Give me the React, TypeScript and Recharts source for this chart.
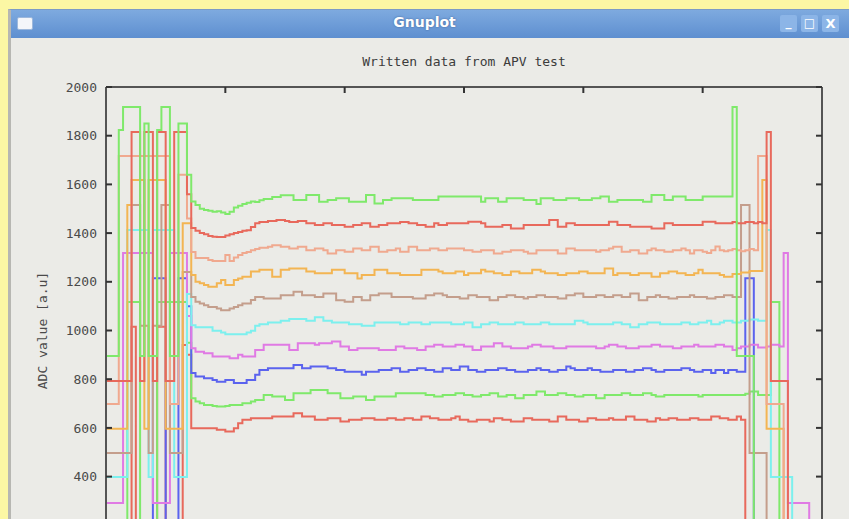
import React from 'react';
import { LineChart, Line, XAxis, YAxis, Label } from 'recharts';

// ---- x categories (sample index) and axis ticks ----
const SAMPLES = Array.from({ length: 169 }, (_, i) => i);
const X_TICKS = [0, 28, 56, 84, 112, 140, 168];
const Y_TICKS = [0, 200, 400, 600, 800, 1000, 1200, 1400, 1600, 1800, 2000];

const CHART_TITLE = 'Written data from APV test';
const Y_LABEL = 'ADC value [a.u]';

// ---- series 1 : red (lowest) ----
const RED0_HEAD = [10, 10, 10, 10, 10, 10, 1015, 10, 10, 10, 10, 10, 1015, 1015, 10, 10, 10, 10, 940, 900];
const RED0_BODY = [
  599, 599, 599, 599, 599, 599, 592, 592, 585, 585,
  599, 619, 633, 633, 640, 640, 640, 640, 640, 647,
  647, 647, 647, 647, 660, 660, 647, 647, 647, 633,
  633, 633, 640, 640, 640, 626, 626, 633, 633, 633,
  640, 640, 640, 633, 633, 633, 640, 640, 633, 633,
  640, 640, 633, 633, 647, 647, 640, 640, 633, 633,
  633, 640, 647, 633, 633, 626, 626, 633, 633, 633,
  626, 640, 640, 633, 633, 626, 626, 626, 640, 640,
  633, 633, 633, 633, 626, 626, 647, 647, 633, 633,
  633, 626, 626, 640, 640, 633, 633, 633, 640, 633,
  633, 633, 647, 647, 633, 633, 633, 626, 626, 640,
  633, 633, 640, 640, 633, 633, 633, 640, 640, 633,
  633, 633, 647, 647, 640, 640, 633, 633, 647, 633,
];
const RED0_TAIL = [10, 10, 10, 10, 10, 10, 10, 10, 10, 10, 10, 10, 10, 10, 10, 10, 10, 10, 10];

// ---- series 2 : green (low) ----
const GREEN0_HEAD = [90, 90, 90, 90, 90, 1117, 1117, 1117, 90, 90, 90, 90, 1117, 1117, 1117, 1117, 1117, 1117, 1117, 950];
const GREEN0_BODY = [
  722, 708, 701, 694, 694, 690, 688, 688, 690, 694,
  694, 694, 701, 701, 708, 715, 715, 735, 735, 729,
  729, 729, 715, 715, 742, 742, 742, 742, 756, 756,
  756, 756, 742, 742, 742, 722, 722, 722, 729, 729,
  729, 715, 715, 729, 729, 729, 729, 729, 742, 742,
  742, 742, 742, 742, 742, 735, 735, 729, 729, 735,
  735, 735, 742, 742, 735, 735, 729, 729, 735, 735,
  742, 742, 729, 729, 735, 735, 722, 722, 735, 735,
  735, 749, 749, 735, 735, 735, 742, 742, 735, 735,
  729, 729, 735, 735, 735, 722, 722, 735, 735, 735,
  735, 742, 742, 735, 735, 735, 742, 742, 735, 729,
  729, 735, 735, 735, 735, 735, 735, 735, 735, 729,
  735, 735, 735, 735, 735, 735, 735, 735, 735, 735,
  740, 749, 749, 735, 735, 735,
];
const GREEN0_TAIL = [1117, 1117, 90, 90, 90, 90, 90, 90, 90, 90, 90, 90, 90];

// ---- series 3 : blue ----
const BLUE_HEAD = [190, 190, 190, 190, 190, 190, 190, 190, 190, 190, 190, 1215, 1215, 1215, 190, 190, 190, 1215, 1215, 1100];
const BLUE_BODY = [
  825, 811, 811, 804, 804, 797, 790, 790, 797, 797,
  784, 784, 784, 797, 797, 818, 838, 838, 845, 845,
  845, 845, 845, 845, 858, 858, 845, 845, 852, 852,
  852, 852, 845, 845, 838, 838, 831, 831, 831, 831,
  818, 831, 831, 831, 838, 838, 838, 845, 845, 831,
  831, 838, 838, 845, 845, 838, 838, 831, 831, 845,
  845, 838, 838, 852, 852, 838, 838, 831, 831, 838,
  838, 838, 845, 845, 838, 838, 831, 831, 831, 838,
  838, 845, 838, 838, 831, 831, 838, 838, 852, 845,
  838, 838, 838, 845, 838, 838, 831, 831, 831, 838,
  838, 838, 831, 831, 838, 838, 845, 845, 838, 831,
  831, 838, 838, 838, 838, 845, 845, 838, 831, 831,
  838, 838, 825, 838, 838, 825, 838, 838, 831, 831,
];
const BLUE_TAIL = [1215, 1215, 190, 190, 190, 190, 190, 190, 190, 190, 190, 190, 190, 190, 190, 190, 190, 190, 190];

// ---- series 4 : magenta ----
const MAGENTA_HEAD = [292, 292, 292, 292, 1318, 1318, 1318, 1318, 1318, 1318, 1318, 292, 292, 292, 292, 1318, 1318, 1318, 1318, 1060];
const MAGENTA_BODY = [
  927, 913, 913, 907, 907, 893, 893, 893, 893, 886,
  886, 900, 893, 893, 893, 920, 920, 941, 941, 941,
  941, 941, 941, 920, 920, 948, 948, 948, 948, 941,
  948, 948, 948, 955, 955, 934, 934, 920, 920, 927,
  927, 927, 927, 927, 920, 920, 920, 920, 934, 934,
  927, 927, 927, 920, 920, 934, 934, 941, 941, 934,
  934, 934, 941, 941, 934, 934, 920, 920, 934, 934,
  934, 948, 948, 934, 934, 927, 927, 927, 927, 934,
  941, 941, 934, 934, 934, 927, 927, 927, 934, 934,
  934, 934, 934, 934, 934, 927, 927, 934, 941, 941,
  934, 934, 927, 927, 927, 934, 934, 934, 941, 941,
  934, 934, 934, 927, 927, 934, 934, 934, 941, 934,
  934, 934, 934, 941, 941, 934, 934, 920, 927, 934,
  934, 941, 941, 930, 930, 934, 941, 941, 934,
];
const MAGENTA_TAIL = [1318, 292, 292, 292, 292, 292, 30, 30, 30, 30];

// ---- series 5 : cyan ----
const CYAN_HEAD = [398, 398, 398, 398, 398, 1413, 1413, 1413, 1413, 1413, 398, 1413, 1413, 1413, 1413, 1413, 398, 398, 398, 1150];
const CYAN_BODY = [
  1022, 1013, 1013, 1013, 1013, 999, 999, 992, 985, 985,
  985, 985, 985, 992, 999, 1020, 1026, 1026, 1033, 1033,
  1033, 1040, 1040, 1047, 1047, 1047, 1047, 1040, 1040, 1054,
  1054, 1040, 1040, 1033, 1033, 1033, 1033, 1026, 1026, 1026,
  1020, 1020, 1020, 1033, 1033, 1033, 1033, 1033, 1033, 1026,
  1026, 1033, 1033, 1033, 1026, 1026, 1033, 1033, 1033, 1033,
  1033, 1026, 1026, 1026, 1033, 1033, 1013, 1013, 1026, 1026,
  1033, 1033, 1026, 1026, 1026, 1026, 1033, 1033, 1026, 1026,
  1026, 1026, 1033, 1033, 1026, 1026, 1026, 1026, 1026, 1026,
  1040, 1040, 1033, 1026, 1026, 1026, 1026, 1026, 1026, 1033,
  1033, 1026, 1026, 1013, 1013, 1026, 1026, 1033, 1033, 1033,
  1026, 1026, 1026, 1026, 1026, 1033, 1033, 1026, 1026, 1033,
  1033, 1040, 1026, 1026, 1033, 1040, 1040, 1033, 1033, 1040,
  1040, 1045, 1045, 1040, 1040,
];
const CYAN_TAIL = [1413, 398, 398, 398, 398, 398, 30, 30, 30, 30, 30, 30, 30, 30];

// ---- series 6 : sienna ----
const SIENNA_HEAD = [497, 497, 497, 497, 497, 497, 1515, 1515, 1020, 1020, 497, 1020, 1020, 1515, 1515, 497, 497, 497, 1240, 1240];
const SIENNA_BODY = [
  1138, 1118, 1111, 1104, 1097, 1097, 1090, 1083, 1083, 1090,
  1097, 1104, 1111, 1111, 1125, 1138, 1138, 1131, 1131, 1131,
  1131, 1145, 1145, 1145, 1159, 1159, 1145, 1145, 1145, 1138,
  1138, 1152, 1152, 1152, 1124, 1124, 1118, 1118, 1138, 1138,
  1124, 1124, 1145, 1145, 1152, 1152, 1152, 1138, 1138, 1138,
  1138, 1138, 1131, 1131, 1131, 1145, 1145, 1152, 1152, 1145,
  1138, 1138, 1138, 1131, 1131, 1145, 1145, 1138, 1138, 1138,
  1124, 1124, 1138, 1138, 1145, 1145, 1138, 1138, 1131, 1138,
  1138, 1145, 1145, 1138, 1138, 1138, 1131, 1131, 1145, 1145,
  1152, 1152, 1138, 1138, 1138, 1145, 1145, 1138, 1138, 1145,
  1145, 1138, 1138, 1152, 1152, 1124, 1124, 1138, 1138, 1145,
  1138, 1138, 1131, 1131, 1138, 1138, 1138, 1145, 1138, 1138,
  1138, 1131, 1131, 1138, 1138, 1145, 1145, 1138, 1138,
];
const SIENNA_TAIL = [1515, 1515, 497, 497, 497, 497, 60, 60, 60, 60, 60, 60, 60, 60, 60, 60, 60, 60, 60, 60];

// ---- series 7 : orange ----
const ORANGE_HEAD = [596, 596, 596, 596, 596, 1515, 1618, 1618, 1618, 596, 1618, 1618, 1618, 1618, 596, 596, 596, 596, 1440, 1440];
const ORANGE_BODY = [
  1228, 1200, 1194, 1187, 1180, 1180, 1194, 1207, 1187, 1187,
  1207, 1214, 1221, 1221, 1242, 1242, 1249, 1249, 1249, 1221,
  1221, 1249, 1249, 1255, 1255, 1255, 1255, 1242, 1242, 1235,
  1235, 1235, 1235, 1249, 1249, 1249, 1235, 1235, 1235, 1214,
  1228, 1228, 1228, 1249, 1249, 1249, 1235, 1235, 1235, 1228,
  1228, 1228, 1228, 1228, 1249, 1249, 1249, 1249, 1242, 1235,
  1235, 1235, 1242, 1242, 1228, 1235, 1235, 1235, 1249, 1242,
  1242, 1235, 1235, 1228, 1228, 1242, 1242, 1235, 1235, 1235,
  1249, 1249, 1242, 1235, 1235, 1235, 1228, 1228, 1235, 1235,
  1235, 1242, 1242, 1235, 1235, 1235, 1235, 1255, 1255, 1228,
  1235, 1235, 1235, 1228, 1228, 1235, 1235, 1235, 1221, 1221,
  1235, 1235, 1242, 1242, 1235, 1235, 1228, 1228, 1235, 1249,
  1235, 1235, 1235, 1235, 1228, 1221, 1221, 1232, 1232, 1238,
  1238, 1244, 1244, 1244,
];
const ORANGE_TAIL = [1618, 596, 596, 596, 596, 30, 30, 30, 30, 30, 30, 30, 30, 30, 30];

// ---- series 8 : coral ----
const CORAL_HEAD = [698, 698, 698, 1717, 1717, 1717, 1717, 1717, 1717, 1717, 1717, 1717, 1717, 1717, 1717, 698, 698, 1640, 1640, 1460];
const CORAL_BODY = [
  1322, 1298, 1298, 1298, 1290, 1285, 1285, 1285, 1310, 1285,
  1300, 1310, 1318, 1322, 1330, 1335, 1340, 1340, 1344, 1350,
  1350, 1344, 1344, 1337, 1337, 1344, 1344, 1330, 1330, 1337,
  1337, 1330, 1316, 1316, 1330, 1330, 1323, 1323, 1337, 1337,
  1330, 1330, 1344, 1344, 1323, 1323, 1330, 1330, 1337, 1323,
  1323, 1344, 1344, 1330, 1330, 1330, 1337, 1337, 1330, 1330,
  1337, 1337, 1337, 1337, 1330, 1330, 1323, 1323, 1330, 1330,
  1330, 1316, 1316, 1323, 1323, 1330, 1330, 1330, 1323, 1316,
  1316, 1330, 1330, 1330, 1330, 1330, 1316, 1316, 1337, 1337,
  1330, 1330, 1330, 1330, 1330, 1323, 1330, 1330, 1337, 1344,
  1344, 1323, 1323, 1330, 1330, 1316, 1316, 1330, 1337, 1330,
  1330, 1323, 1323, 1330, 1330, 1337, 1330, 1316, 1330, 1330,
  1323, 1318, 1330, 1345, 1330, 1325, 1330, 1335, 1330, 1325,
  1330, 1335, 1330,
];
const CORAL_TAIL = [1717, 1717, 698, 698, 698, 698, 20, 20, 20, 20, 20, 20, 20, 20, 20, 20];

// ---- series 9 : red (upper) ----
const RED1_HEAD = [793, 793, 793, 793, 793, 793, 1815, 1815, 793, 1815, 1815, 793, 1815, 1815, 793, 793, 1815, 1815, 1815, 1560];
const RED1_BODY = [
  1421, 1410, 1400, 1395, 1388, 1385, 1384, 1384, 1390, 1395,
  1400, 1405, 1410, 1412, 1425, 1440, 1446, 1446, 1450, 1450,
  1454, 1454, 1450, 1446, 1446, 1450, 1450, 1440, 1440, 1433,
  1433, 1440, 1440, 1433, 1433, 1433, 1426, 1426, 1433, 1433,
  1440, 1440, 1426, 1426, 1433, 1433, 1440, 1440, 1440, 1446,
  1446, 1440, 1440, 1433, 1433, 1426, 1426, 1440, 1433, 1433,
  1440, 1440, 1440, 1440, 1440, 1447, 1447, 1447, 1440, 1426,
  1426, 1426, 1426, 1433, 1433, 1419, 1419, 1419, 1433, 1433,
  1433, 1433, 1433, 1433, 1454, 1454, 1426, 1426, 1440, 1440,
  1433, 1433, 1433, 1433, 1433, 1433, 1433, 1433, 1447, 1447,
  1433, 1433, 1433, 1426, 1426, 1426, 1426, 1426, 1419, 1419,
  1419, 1440, 1440, 1433, 1433, 1433, 1433, 1433, 1433, 1433,
  1447, 1447, 1447, 1440, 1440, 1440, 1440, 1446, 1440, 1440,
  1446, 1446, 1440, 1446, 1440,
];
const RED1_TAIL = [1815, 793, 793, 793, 793, 30, 30, 30, 30, 30, 30, 30, 30, 30];

// ---- series 10 : green (top) ----
const GREEN1_HEAD = [895, 895, 895, 1823, 1918, 1918, 1918, 1918, 895, 1850, 895, 895, 1823, 1918, 1918, 895, 895, 1850, 1850, 1640];
const GREEN1_BODY = [
  1530, 1515, 1500, 1495, 1492, 1488, 1490, 1485, 1478, 1488,
  1505, 1512, 1520, 1525, 1530, 1528, 1535, 1540, 1540, 1548,
  1548, 1555, 1555, 1555, 1536, 1536, 1536, 1556, 1556, 1556,
  1529, 1529, 1536, 1536, 1543, 1543, 1543, 1529, 1529, 1529,
  1529, 1556, 1556, 1522, 1522, 1536, 1536, 1543, 1543, 1543,
  1543, 1543, 1536, 1536, 1536, 1536, 1536, 1536, 1550, 1550,
  1550, 1550, 1550, 1550, 1550, 1550, 1550, 1550, 1529, 1543,
  1543, 1543, 1529, 1529, 1543, 1543, 1543, 1543, 1536, 1536,
  1536, 1519, 1543, 1543, 1543, 1536, 1536, 1536, 1543, 1543,
  1543, 1536, 1536, 1536, 1543, 1543, 1550, 1550, 1529, 1529,
  1536, 1536, 1536, 1536, 1536, 1536, 1529, 1529, 1556, 1556,
  1556, 1536, 1536, 1550, 1550, 1550, 1536, 1536, 1536, 1536,
  1550, 1550, 1550, 1550, 1550, 1550, 1550,
];
const GREEN1_TAIL = [1918, 895, 895, 895, 895, 100, 100, 100, 100, 100, 100, 100, 100, 100, 100, 100, 100, 100, 100, 100, 100, 100];

const SERIES = [
  { key: 'red0', color: '#e8695c', values: [...RED0_HEAD, ...RED0_BODY, ...RED0_TAIL] },
  { key: 'green0', color: '#7fe96b', values: [...GREEN0_HEAD, ...GREEN0_BODY, ...GREEN0_TAIL] },
  { key: 'blue', color: '#5b63ee', values: [...BLUE_HEAD, ...BLUE_BODY, ...BLUE_TAIL] },
  { key: 'magenta', color: '#e07ae4', values: [...MAGENTA_HEAD, ...MAGENTA_BODY, ...MAGENTA_TAIL] },
  { key: 'cyan', color: '#7cf0ee', values: [...CYAN_HEAD, ...CYAN_BODY, ...CYAN_TAIL] },
  { key: 'sienna', color: '#c49e8c', values: [...SIENNA_HEAD, ...SIENNA_BODY, ...SIENNA_TAIL] },
  { key: 'orange', color: '#f3b553', values: [...ORANGE_HEAD, ...ORANGE_BODY, ...ORANGE_TAIL] },
  { key: 'coral', color: '#f0a98f', values: [...CORAL_HEAD, ...CORAL_BODY, ...CORAL_TAIL] },
  { key: 'red1', color: '#e8695c', values: [...RED1_HEAD, ...RED1_BODY, ...RED1_TAIL] },
  { key: 'green1', color: '#7fe96b', values: [...GREEN1_HEAD, ...GREEN1_BODY, ...GREEN1_TAIL] },
];

const TABLE = SAMPLES.map((x, i) => {
  const row: Record<string, number | null> = { x };
  SERIES.forEach((s) => {
    row[s.key] = i < s.values.length ? s.values[i] : null;
  });
  return row;
});

const FONT = '"DejaVu Sans Mono", monospace';
const emptyTick = () => <g />;

const YLabel = (props: any) => {
  const vb = props.viewBox || { x: 0, y: 0, width: 0, height: 0 };
  const cx = vb.x + 42;
  const cy = vb.y + vb.height / 2;
  return (
    <text x={cx} y={cy} transform={`rotate(-90 ${cx} ${cy})`} textAnchor="middle" dominantBaseline="central"
      fill="#4a4a4a" fontSize={13} fontFamily={FONT}>
      {Y_LABEL}
    </text>
  );
};

export default function App() {
  return (
    <div style={{ position: 'absolute', left: 0, top: 0, width: 849, height: 519, overflow: 'hidden', background: '#fcf7a4' }}>
      {/* window */}
      <div style={{ position: 'absolute', left: 8, top: 9, width: 860, height: 530, background: '#ebebe7', borderLeft: '3px solid #b7b7b2', borderTop: '1px solid #7c9cc6', boxSizing: 'border-box' }} />
      {/* title bar */}
      <div style={{ position: 'absolute', left: 11, top: 10, width: 860, height: 28, background: 'linear-gradient(#7eaadf, #5e8fd0)' }} />
      <div style={{ position: 'absolute', left: 17, top: 17, width: 14, height: 11, background: '#f4f6fa', border: '1px solid #9db8dc', borderRadius: 2 }} />
      <div style={{ position: 'absolute', left: 0, top: 14, width: 849, textAlign: 'center', color: '#ffffff', fontFamily: '"DejaVu Sans", sans-serif', fontWeight: 'bold', fontSize: 14, textShadow: '0 0 2px #3a5f95' }}>
        Gnuplot
      </div>
      <div style={{ position: 'absolute', left: 780, top: 15, width: 17, height: 17, background: '#8cb5e7', borderRadius: 2, color: '#fff', fontFamily: '"DejaVu Sans", sans-serif', fontWeight: 'bold', fontSize: 12, textAlign: 'center', lineHeight: '15px' }}>_</div>
      <div style={{ position: 'absolute', left: 801, top: 15, width: 17, height: 17, background: '#8cb5e7', borderRadius: 2, color: '#fff', fontFamily: '"DejaVu Sans", sans-serif', fontWeight: 'bold', fontSize: 12, textAlign: 'center', lineHeight: '17px' }}>□</div>
      <div style={{ position: 'absolute', left: 822, top: 15, width: 17, height: 17, background: '#8cb5e7', borderRadius: 2, color: '#fff', fontFamily: '"DejaVu Sans", sans-serif', fontWeight: 'bold', fontSize: 13, textAlign: 'center', lineHeight: '17px' }}>X</div>
      {/* chart title */}
      <div style={{ position: 'absolute', left: 106, top: 54, width: 716, textAlign: 'center', color: '#3c3c3c', fontFamily: FONT, fontSize: 13 }}>
        {CHART_TITLE}
      </div>
      <div style={{ position: 'absolute', left: 0, top: 0 }}>
        <LineChart width={849} height={600} data={TABLE} margin={{ top: 86, right: 26, bottom: 26, left: 0 }}>
          <XAxis xAxisId="top" dataKey="x" type="number" orientation="top" height={1} domain={[0, 168]} ticks={X_TICKS}
            tick={emptyTick} tickSize={-6} axisLine={{ stroke: '#555', strokeWidth: 2 }} tickLine={{ stroke: '#333', strokeWidth: 2 }} allowDataOverflow />
          <YAxis yAxisId="left" orientation="left" width={106} type="number" domain={[0, 2000]} ticks={Y_TICKS}
            tickSize={-6} tickMargin={15} allowDataOverflow
            tick={{ fill: '#4a4a4a', fontSize: 13, fontFamily: FONT }}
            axisLine={{ stroke: '#555', strokeWidth: 2 }} tickLine={{ stroke: '#333', strokeWidth: 2 }}>
            <Label content={YLabel} />
          </YAxis>
          <YAxis yAxisId="right" orientation="right" width={1} type="number" domain={[0, 2000]} ticks={Y_TICKS}
            tick={emptyTick} tickSize={-6} allowDataOverflow
            axisLine={{ stroke: '#555', strokeWidth: 2 }} tickLine={{ stroke: '#333', strokeWidth: 2 }} />
          {SERIES.map((s) => (
            <Line key={s.key} xAxisId="top" yAxisId="left" dataKey={s.key} type="stepAfter" stroke={s.color}
              strokeWidth={2} dot={false} activeDot={false} isAnimationActive={false} connectNulls={false} />
          ))}
        </LineChart>
      </div>
    </div>
  );
}
